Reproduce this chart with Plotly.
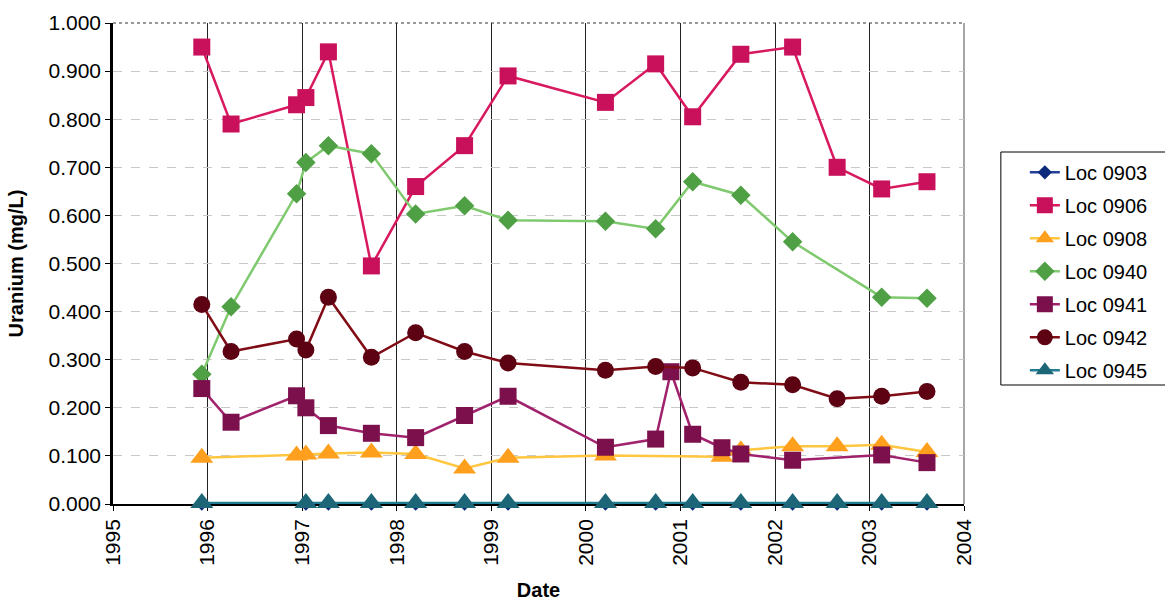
import plotly.graph_objects as go

# Sampling dates shared by all locations
dates = [
    "1995-12-10", "1996-04-01", "1996-12-10", "1997-01-15", "1997-04-12",
    "1997-09-25", "1998-03-15", "1998-09-20", "1999-03-07", "2000-03-17",
    "2000-09-27", "2000-11-25", "2001-02-17", "2001-06-10", "2001-08-22",
    "2002-03-10", "2002-08-29", "2003-02-17", "2003-08-11",
]

# Uranium concentrations (mg/L); None = location not sampled on that date
loc_0903 = [0.001, None, None, 0.001, 0.001, 0.001, 0.001, 0.001, 0.001, 0.001,
            0.001, None, 0.001, None, 0.001, 0.001, 0.001, 0.001, 0.001]
loc_0906 = [0.950, 0.790, 0.830, 0.845, 0.940, 0.495, 0.660, 0.745, 0.890, 0.835,
            0.915, None, 0.805, None, 0.935, 0.950, 0.700, 0.655, 0.670]
loc_0908 = [0.096, None, 0.101, 0.103, 0.105, 0.107, 0.104, 0.074, 0.096, 0.101,
            None, None, None, 0.098, 0.112, 0.120, 0.120, 0.123, 0.108]
loc_0940 = [0.270, 0.410, 0.645, 0.710, 0.745, 0.728, 0.603, 0.620, 0.590, 0.588,
            0.572, None, 0.670, None, 0.642, 0.545, None, 0.430, 0.428]
loc_0941 = [0.240, 0.170, 0.225, 0.200, 0.163, 0.147, 0.138, 0.184, 0.224, 0.118,
            0.135, 0.275, 0.145, 0.117, 0.104, 0.091, None, 0.102, 0.086]
loc_0942 = [0.415, 0.317, 0.343, 0.320, 0.430, 0.305, 0.356, 0.317, 0.293, 0.278,
            0.286, None, 0.283, None, 0.253, 0.248, 0.219, 0.224, 0.234]
loc_0945 = [0.002, None, None, 0.002, 0.002, 0.002, 0.002, 0.002, 0.002, 0.002,
            0.002, None, 0.002, None, 0.002, 0.002, 0.002, 0.002, 0.002]

year_ticks = ["1995", "1996", "1997", "1998", "1999", "2000", "2001", "2002", "2003", "2004"]

series = [
    ("Loc 0903", loc_0903, "#23409a", "#0b2a7c", "diamond", 11),
    ("Loc 0906", loc_0906, "#d8195f", "#c9105a", "square", 17),
    ("Loc 0908", loc_0908, "#ffc640", "#ff9f1e", "triangle-up", 20),
    ("Loc 0940", loc_0940, "#7fc96e", "#4f9f45", "diamond", 15),
    ("Loc 0941", loc_0941, "#a0226c", "#7b104c", "square", 17),
    ("Loc 0942", loc_0942, "#800c16", "#5c0212", "circle", 17),
    ("Loc 0945", loc_0945, "#207d92", "#1d6677", "triangle-up", 20),
]

FONT = "Liberation Sans, Arial, sans-serif"

fig = go.Figure()
for name, vals, line_col, mk_col, sym, size in series:
    fig.add_trace(go.Scatter(
        x=dates, y=vals, name=name, mode="lines+markers",
        connectgaps=True, legendgroup=name, cliponaxis=False,
        line=dict(color=line_col, width=2.5),
        marker=dict(symbol=sym, size=size, color=mk_col, line=dict(width=0)),
    ))

fig.update_layout(
    width=1165, height=601,
    margin=dict(l=113, r=198, t=23, b=97),
    paper_bgcolor="white", plot_bgcolor="white",
    font=dict(family=FONT, size=20, color="black"),
    showlegend=True,
    legend=dict(
        x=1.0715, xanchor="left", y=0.730, yanchor="top",
        borderwidth=0, bgcolor="rgba(0,0,0,0)",
        font=dict(family=FONT, size=20, color="black"),
        tracegroupgap=4,
    ),
    xaxis=dict(
        type="date",
        range=["1995-01-01", "2004-01-01"],
        tickvals=[f"{y}-01-01" for y in year_ticks],
        ticktext=year_ticks,
        tickangle=-90,
        ticks="outside", ticklen=5, tickcolor="black",
        showgrid=True, gridcolor="#222222", gridwidth=1.2,
        showline=True, linecolor="black", linewidth=1.5, mirror=False,
        title=dict(text="<b>Date</b>", font=dict(family=FONT, size=20), standoff=18),
        tickfont=dict(family=FONT, size=21),
        zeroline=False, automargin=False, layer="below traces",
    ),
    yaxis=dict(
        range=[0, 1.0],
        tickvals=[i / 10 for i in range(11)],
        tickformat=".3f",
        ticks="outside", ticklen=5, tickcolor="black",
        showgrid=True, gridcolor="#c8c8c8", gridwidth=1, griddash="dash",
        showline=True, linecolor="black", linewidth=2.5,
        title=dict(text="<b>Uranium (mg/L)</b>", font=dict(family=FONT, size=20), standoff=20),
        tickfont=dict(family=FONT, size=21),
        zeroline=False, automargin=False, layer="below traces",
    ),
)

# Light top and right frame of the plot area
fig.add_shape(type="line", xref="paper", yref="paper", x0=0, x1=1, y0=1, y1=1,
              layer="below", line=dict(color="#777777", width=1.5, dash="dot"))
fig.add_shape(type="line", xref="paper", yref="paper", x0=1, x1=1, y0=0, y1=1,
              layer="below", line=dict(color="#888888", width=1.5))

# Legend frame running off the right edge of the page
fig.add_shape(type="rect", xref="paper", yref="paper",
              x0=1.0433, x1=1.25, y0=0.2474, y1=0.7318,
              line=dict(color="black", width=1), fillcolor="rgba(0,0,0,0)")

fig.write_html("out.html")
